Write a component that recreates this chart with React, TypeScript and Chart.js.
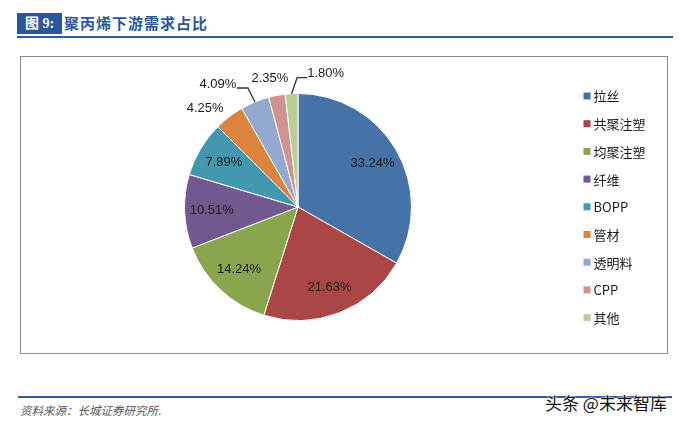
import React, { useEffect, useRef } from "react";
import { Chart, registerables } from "chart.js";

Chart.register(...registerables);

const categories = ["拉丝", "共聚注塑", "均聚注塑", "纤维", "BOPP", "管材", "透明料", "CPP", "其他"];
const shares = [33.24, 21.63, 14.24, 10.51, 7.89, 4.25, 4.09, 2.35, 1.8];
const shareLabels = ["33.24%", "21.63%", "14.24%", "10.51%", "7.89%", "4.25%", "4.09%", "2.35%", "1.80%"];
const colors = ["#4572A7", "#AA4643", "#89A54E", "#71588F", "#4198AF", "#DB843D", "#93A9CF", "#D19392", "#B9CD96"];

// label styling for the small slices (offsets from the slice edge point)
const outsideStyle: Record<number, { dx: number; dy: number; leader?: [number, number][] }> = {
  5: { dx: -24, dy: -8 },
  6: { dx: -37, dy: -18, leader: [[-7, -14], [-18, -14]] },
  7: { dx: -7, dy: -17 },
  8: { dx: 34, dy: -20, leader: [[5.5, -16], [15.5, -16]] },
};

const FONT = "'Liberation Sans', Arial, sans-serif";
const CJK = "'Noto Sans CJK SC', 'Liberation Sans', sans-serif";

const labelPlugin = {
  id: "sliceLabels",
  afterDatasetsDraw(chart: any) {
    const ctx = chart.ctx;
    const meta = chart.getDatasetMeta(0);
    ctx.save();
    ctx.font = `13px ${FONT}`;
    ctx.fillStyle = "#1a1a1a";
    ctx.textAlign = "center";
    ctx.textBaseline = "middle";
    meta.data.forEach((arc: any, i: number) => {
      const { x, y, startAngle, endAngle, outerRadius } = arc.getProps(["x", "y", "startAngle", "endAngle", "outerRadius"], true);
      const mid = (startAngle + endAngle) / 2;
      const cx = Math.cos(mid);
      const cy = Math.sin(mid);
      const st = outsideStyle[i];
      if (!st) {
        ctx.fillText(shareLabels[i], x + cx * outerRadius * 0.76, y + cy * outerRadius * 0.76);
      } else {
        const ex = x + cx * outerRadius;
        const ey = y + cy * outerRadius;
        if (st.leader) {
          ctx.beginPath();
          ctx.strokeStyle = "#333";
          ctx.lineWidth = 1.3;
          ctx.moveTo(ex, ey);
          st.leader.forEach(([lx, ly]) => ctx.lineTo(ex + lx, ey + ly));
          ctx.stroke();
        }
        ctx.fillText(shareLabels[i], ex + st.dx, ey + st.dy);
      }
    });
    ctx.restore();
  },
};

const legendPlugin = {
  id: "sideLegend",
  afterDraw(chart: any) {
    const ctx = chart.ctx;
    const ds = chart.data.datasets[0];
    const labels = chart.data.labels as string[];
    const meta = chart.getDatasetMeta(0);
    const arc = meta.data[0];
    const left = arc.x + arc.outerRadius + 172;
    const top = arc.y - 111;
    const step = 27.7;
    ctx.save();
    ctx.font = `13px ${CJK}`;
    ctx.textBaseline = "middle";
    ctx.textAlign = "left";
    labels.forEach((lab, i) => {
      const yy = top + i * step;
      ctx.fillStyle = ds.backgroundColor[i];
      ctx.fillRect(left, yy - 3.5, 7, 7);
      ctx.fillStyle = "#1a1a1a";
      ctx.fillText(lab, left + 10, yy + 0.5);
    });
    ctx.restore();
  },
};

function PieChart() {
  const ref = useRef<HTMLCanvasElement | null>(null);
  useEffect(() => {
    if (!ref.current) return;
    const chart = new Chart(ref.current, {
      type: "pie",
      data: {
        labels: categories,
        datasets: [
          {
            data: shares,
            backgroundColor: colors,
            borderColor: "#ffffff",
            borderWidth: 1,
          },
        ],
      },
      options: {
        responsive: false,
        animation: false,
        devicePixelRatio: 1,
        layout: { padding: { left: 163, right: 255, top: 36, bottom: 32 } },
        plugins: {
          legend: { display: false },
          tooltip: { enabled: false },
        },
      },
      plugins: [labelPlugin, legendPlugin],
    });
    return () => chart.destroy();
  }, []);
  return <canvas ref={ref} width={646} height={296} style={{ display: "block" }} />;
}

export default function App() {
  useEffect(() => {
    document.body.style.margin = "0";
  }, []);
  return (
    <div style={{ position: "fixed", left: 0, top: 0, width: 681, height: 427, background: "#fff", overflow: "hidden" }}>
      <div
        style={{
          position: "absolute", left: 17, top: 13, width: 45, height: 21, background: "#2B5797",
          color: "#fff", fontFamily: "'Liberation Serif', 'Noto Sans CJK SC', serif", fontWeight: 700, fontSize: 14,
          lineHeight: "21px", textAlign: "center",
        }}
      >
        图 9:
      </div>
      <div
        style={{
          position: "absolute", left: 64, top: 12, height: 22, color: "#2B5797", fontFamily: CJK,
          fontWeight: 700, fontSize: 15, lineHeight: "22px", letterSpacing: 1,
        }}
      >
        聚丙烯下游需求占比
      </div>
      <div style={{ position: "absolute", left: 17, top: 36, width: 656, height: 2, background: "#2E5C9E" }} />
      <div
        style={{
          position: "absolute", left: 20, top: 56, width: 648, height: 298, border: "1px solid #8c8c8c",
          boxSizing: "border-box",
        }}
      >
        <PieChart />
      </div>
      <div style={{ position: "absolute", left: 18, top: 396, width: 654, height: 2, background: "#2E5C9E" }} />
      <div
        style={{
          position: "absolute", left: 20, top: 402, fontFamily: CJK, fontStyle: "italic", fontSize: 11.5,
          lineHeight: "16px", color: "#595959", letterSpacing: 0,
        }}
      >
        资料来源：长城证券研究所.
      </div>
      <div
        style={{
          position: "absolute", left: 545, top: 392, fontFamily: CJK, fontSize: 17, lineHeight: "22px",
          color: "#111", textShadow: "0 0 2px #fff, 0 0 2px #fff, 0 0 1px #fff", whiteSpace: "nowrap",
        }}
      >
        头条 @未来智库
      </div>
    </div>
  );
}
